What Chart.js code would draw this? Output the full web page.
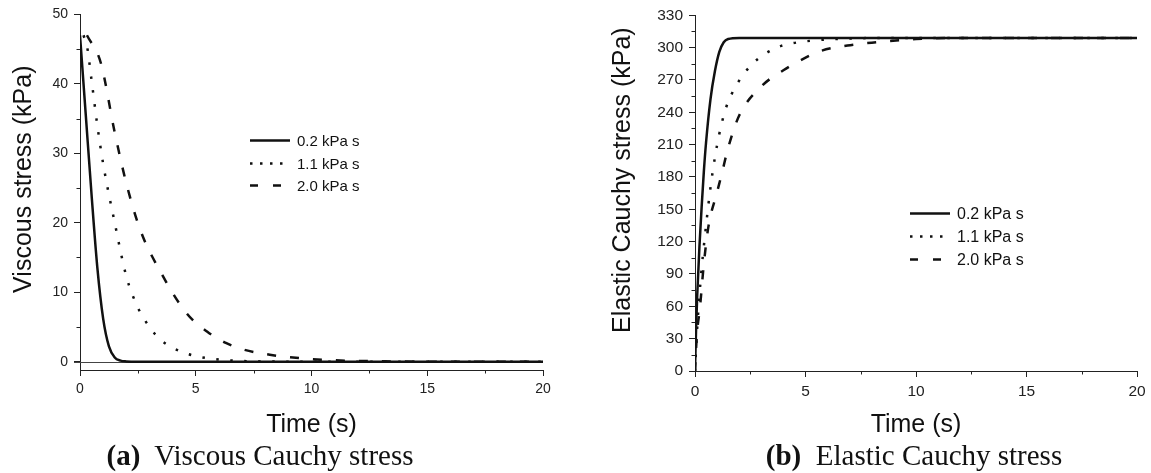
<!DOCTYPE html>
<html>
<head>
<meta charset="utf-8">
<script src="https://cdn.jsdelivr.net/npm/chart.js@4.4.1/dist/chart.umd.min.js"></script>
<style>
  body { margin: 0; background: #fff; width: 1151px; height: 473px; position: relative; overflow: hidden; }
  .panel { position: absolute; top: 0; }
  .cap { position: absolute; top: 441px; font-family: "Liberation Serif", "Times New Roman", serif; font-size: 29px; line-height: 29px; color: #111; white-space: pre; transform: translateX(-50%); }
</style>
</head>
<body>
<div class="panel" style="left:0;width:575px;height:440px"><canvas id="viscChart" width="575" height="440"></canvas></div>
<div class="panel" style="left:595px;width:556px;height:440px"><canvas id="elasChart" width="556" height="440"></canvas></div>
<div class="cap" style="left:260px"><b>(a)</b>  Viscous Cauchy stress</div>
<div class="cap" style="left:914px"><b>(b)</b>  Elastic Cauchy stress</div>
<script>
// series labels
const seriesLabels = ['0.2 kPa s', '1.1 kPa s', '2.0 kPa s'];

// (a) viscous stress, kPa
const viscTime02 = [0, 0.25, 0.5, 0.75, 1, 1.25, 1.5, 1.75, 2, 2.5, 3, 20];
const viscVal02 = [47, 35.5, 24, 13.5, 6.2, 2.2, 0.6, 0.15, 0.04, 0, 0, 0];
const viscTime11 = [0.15, 0.3, 0.5, 0.75, 1, 1.5, 2, 2.5, 3, 3.5, 4, 4.5, 5, 6, 7, 8, 10, 20];
const viscVal11 = [47, 45.5, 40.5, 34, 28.5, 20, 12.3, 7.8, 5, 3.1, 2, 1.3, 0.8, 0.3, 0.1, 0.03, 0, 0];
const viscTime20 = [0.3, 0.9, 1.5, 2, 2.6, 3.5, 4.6, 5.5, 6.3, 7, 8.2, 9.5, 11, 13, 15, 20];
const viscVal20 = [47, 43, 33, 25.7, 19, 12.8, 7, 4.3, 2.7, 1.8, 1, 0.5, 0.2, 0.05, 0, 0];

// (b) elastic stress, kPa
const elasTime02 = [0, 0.05, 0.1, 0.2, 0.3, 0.4, 0.5, 0.7, 0.9, 1.1, 1.3, 1.5, 2, 20];
const elasVal02 = [0, 40, 70, 115, 152, 185, 212, 252, 278, 296, 305, 308, 309, 309];
const elasTime11 = [0, 0.1, 0.2, 0.3, 0.5, 0.7, 0.9, 1.1, 1.4, 1.9, 2.6, 3.7, 4.4, 5.6, 7, 9, 20];
const elasVal11 = [0, 40, 70, 95, 135, 170, 198, 220, 244, 266, 285, 300, 304, 307, 308.5, 309, 309];
const elasTime20 = [0, 0.08, 0.23, 0.38, 0.6, 1, 1.2, 1.5, 2, 3, 4, 4.75, 5.7, 6.9, 8.2, 10, 12, 20];
const elasVal20 = [0, 32, 60, 95, 133, 166, 182, 207, 237, 264, 279, 288, 297, 302, 305, 308, 309, 309];

// axis ticks
const timeTicks = [0, 5, 10, 15, 20];
const viscTicks = [0, 10, 20, 30, 40, 50];
const elasTicks = [0, 30, 60, 90, 120, 150, 180, 210, 240, 270, 300, 330];

const ink = '#111';
const axisInk = '#222';
const fontFamily = '"Liberation Sans", Arial, sans-serif';
const lineStyles = [
  { borderDash: [], legendDash: [] },
  { borderDash: [2.5, 11.5], legendDash: [2.5, 7.5] },
  { borderDash: [9, 14], legendDash: [8, 15] }
];

function toPoints(xs, ys) {
  return xs.map((x, i) => ({ x: x, y: ys[i] }));
}

// small outward minor ticks between the major ones
const minorTicks = {
  id: 'minorTicks',
  afterDraw(chart, args, opts) {
    const ctx = chart.ctx;
    const xs = chart.scales.x, ys = chart.scales.y;
    ctx.save();
    ctx.strokeStyle = axisInk;
    ctx.lineWidth = 1;
    for (let v = opts.x; v < xs.max; v += opts.x * 2) {
      const px = Math.round(xs.getPixelForValue(v)) + 0.5;
      ctx.beginPath(); ctx.moveTo(px, xs.top); ctx.lineTo(px, xs.top + 3.5); ctx.stroke();
    }
    for (let v = opts.y; v < ys.max; v += opts.y * 2) {
      const py = Math.round(ys.getPixelForValue(v)) + 0.5;
      ctx.beginPath(); ctx.moveTo(ys.right, py); ctx.lineTo(ys.right - 3.5, py); ctx.stroke();
    }
    ctx.restore();
  }
};

// thin reference line at y = 0 (panel a)
const zeroLine = {
  id: 'zeroLine',
  beforeDatasetsDraw(chart, args, opts) {
    if (!opts.show) return;
    const { ctx, chartArea } = chart;
    const py = Math.round(chart.scales.y.getPixelForValue(0)) + 0.5;
    ctx.save();
    ctx.strokeStyle = '#444';
    ctx.lineWidth = 1;
    ctx.beginPath(); ctx.moveTo(chartArea.left - 6, py); ctx.lineTo(chartArea.right, py); ctx.stroke();
    ctx.restore();
  }
};

// rotated y-axis title, centred a bit above the axis middle like the original
const yTitle = {
  id: 'yTitle',
  afterDraw(chart, args, opts) {
    const { ctx, chartArea } = chart;
    ctx.save();
    ctx.translate(opts.x, (chartArea.top + chartArea.bottom) / 2 + opts.shift);
    ctx.rotate(-Math.PI / 2);
    ctx.fillStyle = ink;
    ctx.font = '25px ' + fontFamily;
    ctx.textAlign = 'center';
    ctx.textBaseline = 'middle';
    ctx.fillText(opts.text, 0, 0);
    ctx.restore();
  }
};

// legend drawn inside the plot area
const innerLegend = {
  id: 'innerLegend',
  afterDatasetsDraw(chart, args, opts) {
    const { ctx, chartArea } = chart;
    const x0 = chartArea.left + opts.dx;
    const y0 = chartArea.top + opts.dy;
    chart.data.datasets.forEach((ds, i) => {
      const y = Math.round(y0 + i * opts.gap) + 0.5;
      ctx.save();
      ctx.strokeStyle = ds.borderColor;
      ctx.lineWidth = ds.borderWidth;
      ctx.setLineDash(ds.legendDash);
      ctx.beginPath(); ctx.moveTo(x0, y); ctx.lineTo(x0 + 40, y); ctx.stroke();
      ctx.setLineDash([]);
      ctx.fillStyle = ink;
      ctx.font = opts.size + 'px ' + fontFamily;
      ctx.textBaseline = 'middle';
      ctx.fillText(ds.label, x0 + 47, y + 1);
      ctx.restore();
    });
  }
};

function makeDatasets(pairs) {
  return pairs.map((p, i) => ({
    label: seriesLabels[i],
    data: toPoints(p[0], p[1]),
    borderColor: ink,
    borderWidth: 2.5,
    borderDash: lineStyles[i].borderDash,
    legendDash: lineStyles[i].legendDash,
    borderCapStyle: 'butt',
    pointRadius: 0,
    fill: false,
    cubicInterpolationMode: 'monotone'
  }));
}

function makeChart(id, datasets, cfg) {
  const tickFont = { family: fontFamily, size: cfg.tickSize };
  const titleFont = { family: fontFamily, size: 25 };
  return new Chart(document.getElementById(id), {
    type: 'line',
    data: { datasets: datasets },
    options: {
      responsive: false,
      animation: false,
      devicePixelRatio: 1,
      layout: { padding: cfg.padding },
      plugins: {
        legend: { display: false },
        tooltip: { enabled: false },
        minorTicks: { x: 2.5, y: cfg.minorY },
        zeroLine: { show: cfg.zeroLine },
        yTitle: { text: cfg.yTitle, x: cfg.yTitleX, shift: -13 },
        innerLegend: cfg.legend
      },
      scales: {
        x: {
          type: 'linear',
          min: 0, max: 20,
          afterBuildTicks: s => { s.ticks = timeTicks.map(v => ({ value: v })); },
          afterFit: s => { s.height = cfg.xHeight; },
          grid: { drawOnChartArea: false, drawTicks: true, tickLength: 6, color: axisInk },
          border: { display: true, color: axisInk, width: 1 },
          ticks: { color: axisInk, font: tickFont, padding: 5, maxRotation: 0 },
          title: { display: true, text: 'Time (s)', color: ink, font: titleFont, padding: { top: 5, bottom: 0 } }
        },
        y: {
          type: 'linear',
          min: cfg.yMin, max: cfg.yMax,
          afterBuildTicks: s => { s.ticks = cfg.yTicks.map(v => ({ value: v })); },
          afterFit: s => { s.width = cfg.yWidth; },
          grid: { drawOnChartArea: false, drawTicks: true, tickLength: 6, color: axisInk },
          border: { display: true, color: axisInk, width: 1 },
          ticks: { color: axisInk, font: tickFont, padding: 6 }
        }
      }
    },
    plugins: [minorTicks, zeroLine, yTitle, innerLegend]
  });
}

makeChart('viscChart', makeDatasets([
  [viscTime02, viscVal02], [viscTime11, viscVal11], [viscTime20, viscVal20]
]), {
  padding: { top: 14, right: 32, left: 0, bottom: 0 },
  xHeight: 70, yWidth: 80, yTitleX: 24, tickSize: 14,
  yMin: -1.2, yMax: 50, yTicks: viscTicks, minorY: 5,
  yTitle: 'Viscous stress (kPa)',
  zeroLine: true,
  legend: { dx: 170, dy: 126, gap: 22.5, size: 15 }
});

makeChart('elasChart', makeDatasets([
  [elasTime02, elasVal02], [elasTime11, elasVal11], [elasTime20, elasVal20]
]), {
  padding: { top: 15, right: 14, left: 0, bottom: 0 },
  xHeight: 69, yWidth: 100, yTitleX: 28, tickSize: 15.5,
  yMin: 0, yMax: 330, yTicks: elasTicks, minorY: 15,
  yTitle: 'Elastic Cauchy stress (kPa)',
  zeroLine: false,
  legend: { dx: 215, dy: 198, gap: 23, size: 16 }
});
</script>
</body>
</html>
